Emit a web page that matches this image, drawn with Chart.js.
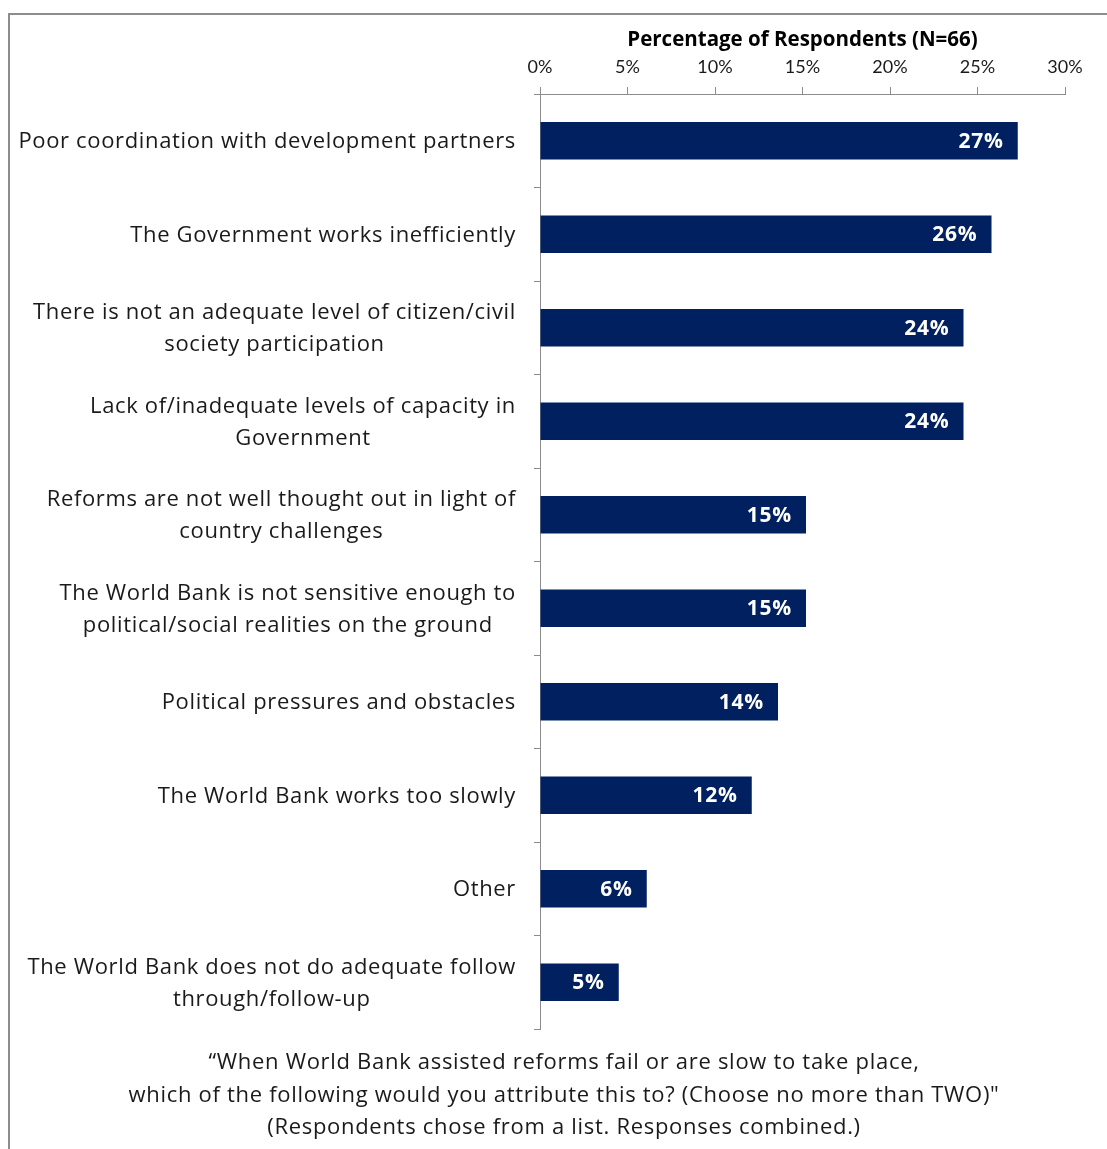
<!DOCTYPE html>
<html>
<head>
<meta charset="utf-8">
<script src="https://cdn.jsdelivr.net/npm/chart.js@4/dist/chart.umd.min.js"></script>
<style>
  html, body { margin: 0; padding: 0; background: #fff; }
  #frame {
    position: absolute; left: 8px; top: 13px; width: 1099px; height: 1136px;
    border-top: 2px solid #8c8c8c; border-left: 2px solid #8c8c8c;
  }
  #wrap { position: absolute; left: 0; top: 0; width: 1097px; height: 1134px; }
</style>
</head>
<body>
<div id="frame"><div id="wrap"><canvas id="reasonsChart"></canvas></div></div>
<script>
// categories, top to bottom
var categories = [
    ['Poor coordination with development partners'],
    ['The Government works inefficiently'],
    ['There is not an adequate level of citizen/civil', 'society participation'],
    ['Lack of/inadequate levels of capacity in', 'Government'],
    ['Reforms are not well thought out in light of', 'country challenges'],
    ['The World Bank is not sensitive enough to', 'political/social realities on the ground'],
    ['Political pressures and obstacles'],
    ['The World Bank works too slowly'],
    ['Other'],
    ['The World Bank does not do adequate follow', 'through/follow-up']
];
// percentage of respondents (N=66)
var percentValues = [27.3, 25.8, 24.2, 24.2, 15.2, 15.2, 13.6, 12.1, 6.1, 4.5];
var tickValues = [0, 5, 10, 15, 20, 25, 30];
var footnote = [
    '\u201CWhen World Bank assisted reforms fail or are slow to take place,',
    'which of the following would you attribute this to? (Choose no more than TWO)"',
    '(Respondents chose from a list. Responses combined.)'
];

var FONT = '"Open Sans", Lato, sans-serif';

// category labels: block right-aligned to the axis, lines centred inside the block
var categoryLabels = {
    id: 'categoryLabels',
    afterDraw: function(chart) {
        var ctx = chart.ctx;
        var yScale = chart.scales.y;
        var rightEdge = yScale.right - 24;
        ctx.save();
        ctx.font = '22px ' + FONT;
        ctx.letterSpacing = '0.65px';
        ctx.fillStyle = '#1a1a1a';
        ctx.textAlign = 'center';
        ctx.textBaseline = 'middle';
        categories.forEach(function(lines, i) {
            var y = yScale.getPixelForValue(i) + 1;
            var maxW = 0;
            lines.forEach(function(l) { maxW = Math.max(maxW, ctx.measureText(l).width); });
            var cx = rightEdge - maxW / 2;
            var lh = 32;
            var y0 = y - (lines.length - 1) * lh / 2;
            lines.forEach(function(l, k) { ctx.fillText(l, cx, y0 + k * lh); });
        });

        // footnote under the plot
        var area = chart.chartArea;
        ctx.textAlign = 'center';
        ctx.letterSpacing = '0.7px';
        footnote.forEach(function(l, k) {
            ctx.fillText(l, 554, area.bottom + 34 + k * 32.5);
        });
        ctx.restore();
    }
};

// value labels inside the bar ends
var valueLabels = {
    id: 'valueLabels',
    afterDatasetsDraw: function(chart) {
        var ctx = chart.ctx;
        var meta = chart.getDatasetMeta(0);
        ctx.save();
        ctx.font = 'bold 21px ' + FONT;
        ctx.letterSpacing = '0.8px';
        ctx.fillStyle = '#ffffff';
        ctx.textAlign = 'right';
        ctx.textBaseline = 'middle';
        meta.data.forEach(function(bar, i) {
            ctx.fillText(Math.round(percentValues[i]) + '%', bar.x - 14, bar.y + 1);
        });
        ctx.restore();
    }
};

var ctx = document.getElementById('reasonsChart').getContext('2d');
var reasonsChart = new Chart(ctx, {
    type: 'bar',
    data: {
        labels: categories.map(function(c) { return c.join(' '); }),
        datasets: [{
            label: 'Percentage of Respondents',
            data: percentValues,
            backgroundColor: '#002060',
            borderWidth: 0,
            barPercentage: 0.4,
            categoryPercentage: 1.0
        }]
    },
    options: {
        indexAxis: 'y',
        responsive: true,
        maintainAspectRatio: false,
        animation: false,
        layout: { padding: { left: 0, right: 42, top: 0, bottom: 120 } },
        scales: {
            x: {
                position: 'top',
                min: 0,
                max: 30,
                afterBuildTicks: function(scale) {
                    scale.ticks = tickValues.map(function(v) { return { value: v }; });
                },
                afterFit: function(scale) { scale.height = 79; },
                ticks: {
                    callback: function(v) { return v + '%'; },
                    color: '#1a1a1a',
                    font: { family: 'Lato, sans-serif', size: 18 },
                    padding: 9,
                    maxRotation: 0
                },
                grid: {
                    drawOnChartArea: false,
                    drawTicks: true,
                    tickLength: 7,
                    color: '#8c8c8c'
                },
                border: { color: '#8c8c8c', width: 1 },
                title: {
                    display: true,
                    text: 'Percentage of Respondents (N=66)',
                    color: '#000',
                    font: { family: FONT, size: 20.5, weight: 'bold' },
                    padding: { top: 13, bottom: 0 }
                }
            },
            y: {
                afterFit: function(scale) { scale.width = 530; },
                ticks: { display: false },
                grid: {
                    drawOnChartArea: false,
                    drawTicks: true,
                    tickLength: 6,
                    offset: true,
                    color: '#8c8c8c'
                },
                border: { color: '#8c8c8c', width: 1 }
            }
        },
        plugins: {
            legend: { display: false },
            tooltip: { enabled: false },
            title: { display: false }
        }
    },
    plugins: [categoryLabels, valueLabels]
});
</script>
</body>
</html>
